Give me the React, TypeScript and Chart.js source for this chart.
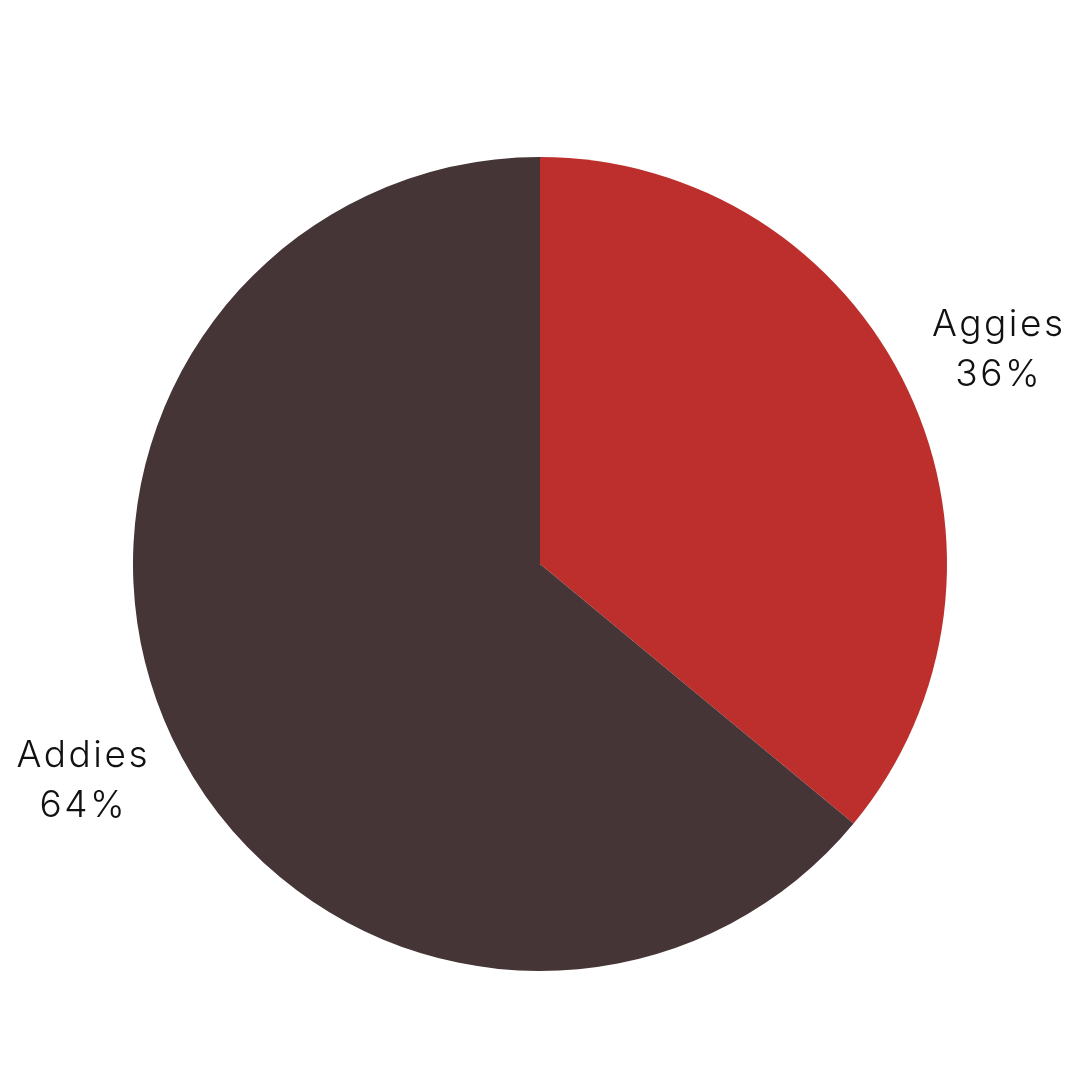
import { useEffect, useRef } from "react";
import { Chart, registerables } from "chart.js";
import type { ChartConfiguration, Plugin } from "chart.js";

Chart.register(...registerables);

const labels = ["Aggies", "Addies"];
const values = [36, 64];
const colors = ["#BD2F2C", "#453536"];

// draws "name / pct%" outside each slice, along its mid angle
const outsideLabels: Plugin<"pie"> = {
  id: "outsideLabels",
  afterDatasetsDraw(chart) {
    const { ctx } = chart;
    const meta = chart.getDatasetMeta(0);
    ctx.save();
    ctx.fillStyle = "#111111";
    ctx.font = "300 37px Inter";
    (ctx as any).letterSpacing = "2.5px";
    ctx.textAlign = "center";
    ctx.textBaseline = "middle";
    meta.data.forEach((arc, i) => {
      const { x, y, startAngle, endAngle, outerRadius } = arc.getProps(
        ["x", "y", "startAngle", "endAngle", "outerRadius"],
        true
      ) as any;
      const mid = (startAngle + endAngle) / 2;
      const d = outerRadius * 1.243;
      const lx = x + Math.cos(mid) * d + 1;
      const ly = y + Math.sin(mid) * d;
      ctx.fillText(labels[i], lx, ly - 24);
      ctx.fillText(`${values[i]}%`, lx, ly + 26);
    });
    ctx.restore();
  },
};

export default function App() {
  const canvasRef = useRef<HTMLCanvasElement>(null);
  const chartRef = useRef<Chart | null>(null);

  useEffect(() => {
    if (!canvasRef.current) return;
    if (chartRef.current) chartRef.current.destroy();

    const config: ChartConfiguration<"pie"> = {
      type: "pie",
      data: {
        labels,
        datasets: [
          {
            data: values,
            backgroundColor: colors,
            borderWidth: 0,
          },
        ],
      },
      options: {
        responsive: false,
        animation: false,
        layout: {
          padding: { left: 133, right: 133, top: 157, bottom: 109 },
        },
        plugins: {
          legend: { display: false },
          tooltip: { enabled: false },
        },
      },
      plugins: [outsideLabels],
    };

    chartRef.current = new Chart(canvasRef.current, config);

    return () => {
      if (chartRef.current) {
        chartRef.current.destroy();
        chartRef.current = null;
      }
    };
  }, []);

  return (
    <div
      style={{
        position: "absolute",
        left: 0,
        top: 0,
        width: 1080,
        height: 1080,
        background: "#ffffff",
      }}
    >
      <canvas ref={canvasRef} width={1080} height={1080}></canvas>
    </div>
  );
}
